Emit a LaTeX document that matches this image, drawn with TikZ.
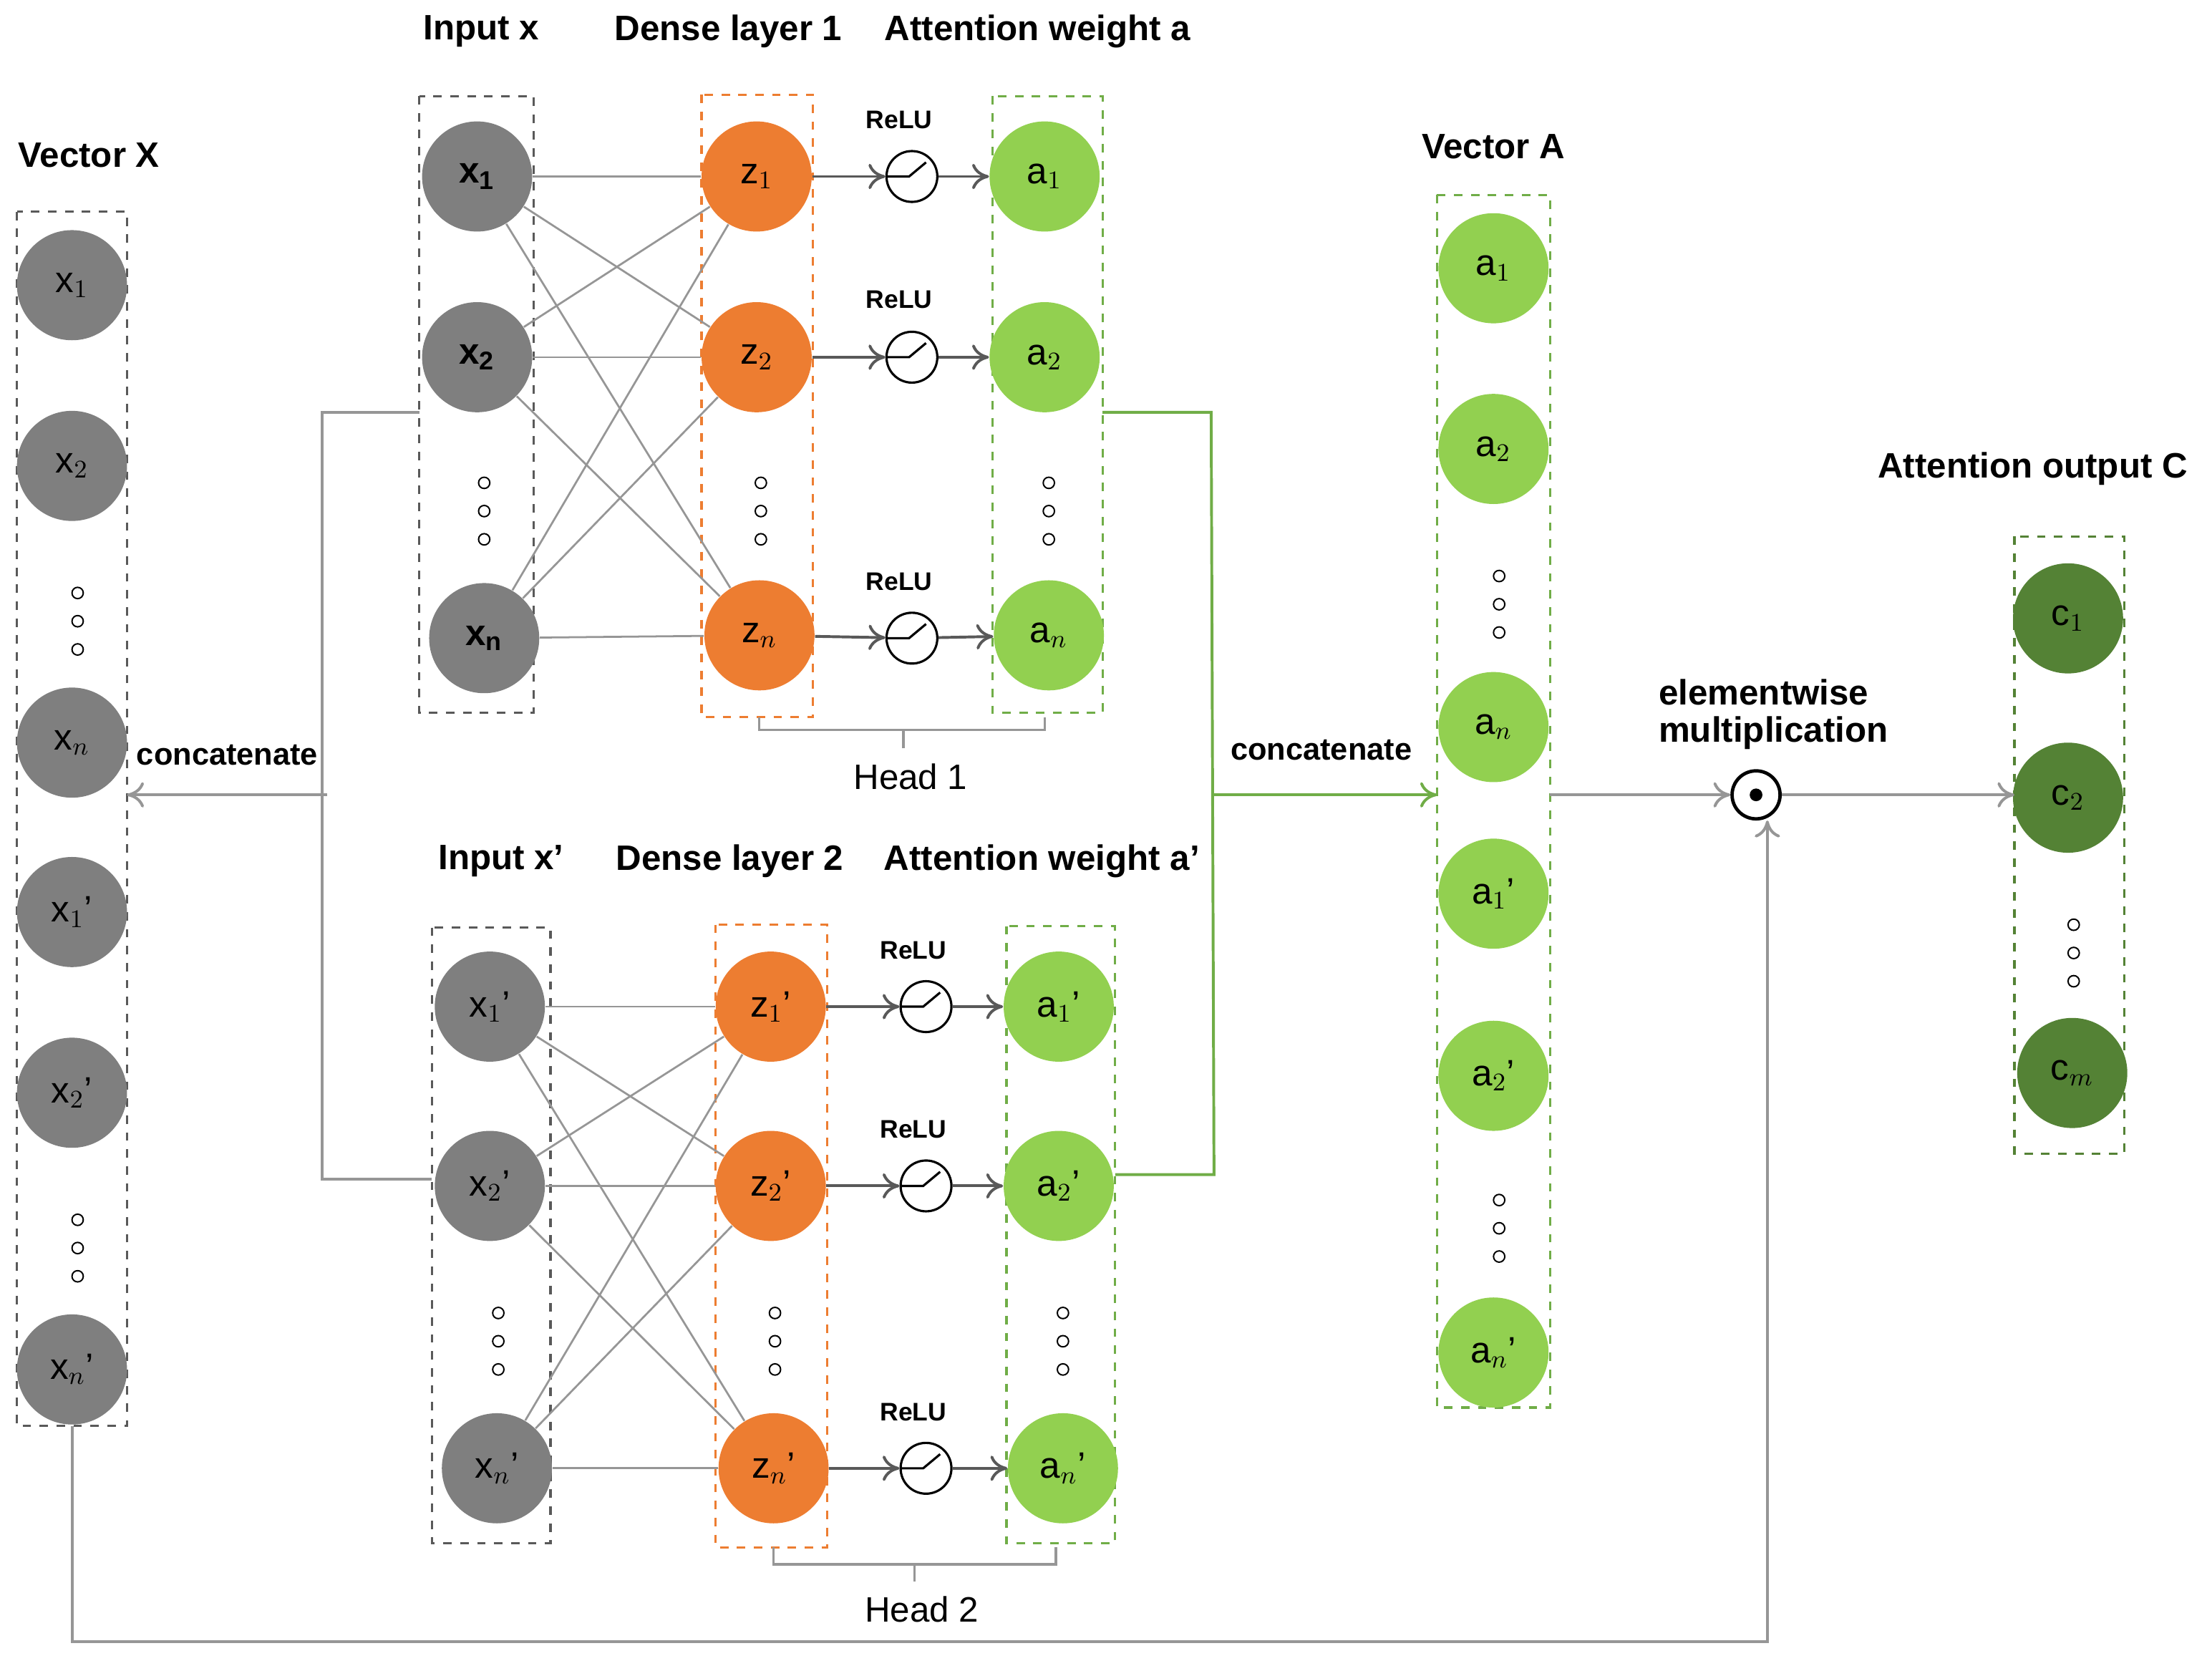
\documentclass[tikz,border=0pt]{standalone}
\usepackage{fontspec}
\setmainfont{Liberation Sans}
\usetikzlibrary{arrows.meta}
\definecolor{ngray}{HTML}{7F7F7F}
\definecolor{norange}{HTML}{ED7D31}
\definecolor{nlgreen}{HTML}{92D050}
\definecolor{ndgreen}{HTML}{548235}
\definecolor{bgray}{HTML}{595959}
\definecolor{bgreen}{HTML}{70AD47}
\definecolor{lgray}{HTML}{969696}
\begin{document}
\begin{tikzpicture}[x=0.5pt,y=-0.5pt,
 nd/.style={circle,minimum size=39pt,inner sep=0pt,font=\fontsize{13}{13}\selectfont},
 gn/.style={nd,fill=ngray},
 on/.style={nd,fill=norange},
 ln/.style={nd,fill=nlgreen},
 dn/.style={nd,fill=ndgreen},
 box/.style={dashed,line width=0.8pt},
 hd/.style={font=\bfseries\fontsize{12.5}{13}\selectfont},
 relu/.style={circle,draw,thick,minimum size=18pt,inner sep=0pt,
   path picture={\draw[thick] ([xshift=-9pt]path picture bounding box.center) -- ++(8pt,0) -- ++(6pt,5pt);}},
 rl/.style={font=\bfseries\fontsize{9}{9}\selectfont},
 fc/.style={lgray,line width=0.7pt},
 ar/.style={-{To[length=6pt,width=9pt]},line width=1pt,draw=bgray},
 ga/.style={-{To[length=6pt,width=9pt]},line width=1pt,draw=lgray},
 dt/.style={circle,draw,inner sep=0pt,minimum size=4pt,line width=0.5pt}]
\useasboundingbox (0,0) rectangle (1567,1180);
\newcommand{\vdts}[2]{\node[dt] at (#1,#2-20) {};\node[dt] at (#1,#2) {};\node[dt] at (#1,#2+20) {};}
% Vector X
\node[hd] (hX) at (63,110) {Vector X};
\draw[box,bgray] (12,150) rectangle (90,1010);
\coordinate (Xr) at (90,563); \coordinate (Xb) at (51,1010);
\node[gn] (X1) at (51,202) {x$_1$};
\node[gn] (X2) at (51,330) {x$_2$};
\vdts{55}{440}
\node[gn] (X3) at (51,526) {x$_n$};
\node[gn] (X4) at (51,646) {x$_1$'};
\node[gn] (X5) at (51,774) {x$_2$'};
\vdts{55}{884}
\node[gn] (X6) at (51,970) {x$_n$'};
% Head 1
\node[hd] (h1a) at (341,22) {Input x};
\node[hd] (h1b) at (516,22) {Dense layer 1};
\node[hd] (h1c) at (735,22) {Attention weight a};
\draw[box,bgray] (297,68) rectangle (378,505);
\draw[box,norange] (497,67) rectangle (576,508);
\draw[box,bgreen] (703,68) rectangle (781,505);
\node[gn] (x1) at (338,125) {$\mathbf{x_1}$};
\node[gn] (x2) at (338,253) {$\mathbf{x_2}$};
\vdts{343}{362}
\node[gn] (x3) at (343,452) {$\mathbf{x_n}$};
\node[on] (z1) at (536,125) {z$_1$};
\node[on] (z2) at (536,253) {z$_2$};
\vdts{539}{362}
\node[on] (z3) at (538,450) {z$_n$};
\node[ln] (a1) at (740,125) {a$_1$};
\node[ln] (a2) at (740,253) {a$_2$};
\vdts{743}{362}
\node[ln] (a3) at (743,450) {a$_n$};
\foreach \i in {1,2,3}{\foreach \j in {1,2,3}{\draw[fc] (x\i) -- (z\j);}}
\node[relu] (r1) at (646,125) {}; \node[rl] at (637,85) {ReLU};
\node[relu] (r2) at (646,253) {}; \node[rl] at (637,212) {ReLU};
\node[relu] (r3) at (646,452) {}; \node[rl] at (637,412) {ReLU};
\foreach \i in {1,2,3}{\draw[ar] (z\i) -- (r\i); \draw[ar] (r\i) -- (a\i);}
\draw[lgray,line width=0.8pt] (538,508) -- (538,517) -- (740,517) -- (740,508) (640,517) -- (640,530);
\node[font=\fontsize{12.5}{13}\selectfont] (H1) at (645,550) {Head 1};
% Head 2
\node[hd] (h2a) at (355,610) {Input x'};
\node[hd] (h2b) at (517,610) {Dense layer 2};
\node[hd] (h2c) at (738,610) {Attention weight a'};
\draw[box,bgray] (306,657) rectangle (390,1093);
\draw[box,norange] (507,655) rectangle (586,1096);
\draw[box,bgreen] (713,656) rectangle (790,1093);
\node[gn] (y1) at (347,713) {x$_1$'};
\node[gn] (y2) at (347,840) {x$_2$'};
\vdts{353}{950}
\node[gn] (y3) at (352,1040) {x$_n$'};
\node[on] (w1) at (546,713) {z$_1$'};
\node[on] (w2) at (546,840) {z$_2$'};
\vdts{549}{950}
\node[on] (w3) at (548,1040) {z$_n$'};
\node[ln] (b1) at (750,713) {a$_1$'};
\node[ln] (b2) at (750,840) {a$_2$'};
\vdts{753}{950}
\node[ln] (b3) at (753,1040) {a$_n$'};
\foreach \i in {1,2,3}{\foreach \j in {1,2,3}{\draw[fc] (y\i) -- (w\j);}}
\node[relu] (s1) at (656,713) {}; \node[rl] at (647,673) {ReLU};
\node[relu] (s2) at (656,840) {}; \node[rl] at (647,800) {ReLU};
\node[relu] (s3) at (656,1040) {}; \node[rl] at (647,1000) {ReLU};
\foreach \i in {1,2,3}{\draw[ar] (w\i) -- (s\i); \draw[ar] (s\i) -- (b\i);}
\draw[lgray,line width=0.8pt] (548,1096) -- (548,1108) -- (748,1108) -- (748,1096) (648,1108) -- (648,1120);
\node[font=\fontsize{12.5}{13}\selectfont] (H2) at (653,1140) {Head 2};
% concatenate left
\draw[lgray,line width=1pt] (297,292) -- (228,292) -- (228,835) -- (306,835);
\coordinate (cl) at (232,563);
\draw[ga] (cl) -- (Xr);
\node[font=\bfseries\fontsize{11}{11}\selectfont] (c1t) at (161,535) {concatenate};
% concatenate right
\draw[bgreen,line width=1pt] (781,292) -- (858,292) -- (860,832) -- (790,832);
\coordinate (cr) at (860,563); \coordinate (Al) at (1018,563);
\draw[-{To[length=6pt,width=9pt]},line width=1pt,bgreen] (cr) -- (Al);
\node[font=\bfseries\fontsize{11}{11}\selectfont] (c2t) at (936,531) {concatenate};
% Vector A
\node[hd] (hA) at (1058,104) {Vector A};
\draw[box,bgreen] (1018,138) rectangle (1098,997);
\node[ln] (A1) at (1058,190) {a$_1$};
\node[ln] (A2) at (1058,318) {a$_2$};
\vdts{1062}{428}
\node[ln] (A3) at (1058,515) {a$_n$};
\node[ln] (A4) at (1058,633) {a$_1$'};
\node[ln] (A5) at (1058,762) {a$_2$'};
\vdts{1062}{870}
\node[ln] (A6) at (1058,958) {a$_n$'};
\coordinate (Ar) at (1098,563);
% odot
\node[circle,draw,line width=1.2pt,minimum size=17pt,inner sep=0pt] (m) at (1244,563) {};
\fill (m.center) circle (4.5);
\node[hd,align=left,anchor=west] (mt) at (1168,506) {elementwise\\multiplication};
\draw[ga] (Ar) -- (m);
% Output C
\node[hd] (hC) at (1440,332) {Attention output C};
\draw[box,ndgreen] (1427,380) rectangle (1505,817);
\node[dn] (C1) at (1465,438) {c$_1$};
\node[dn] (C2) at (1465,565) {c$_2$};
\vdts{1469}{675}
\node[dn] (C3) at (1468,760) {c$_m$};
\coordinate (Cl) at (1427,563);
\draw[ga] (m) -- (Cl);
% bottom
\coordinate (b1c) at (51,1163); \coordinate (b2c) at (1252,1163);
\draw[ga] (Xb) -- (b1c) -- (b2c) -- (m.south -| b2c);
\end{tikzpicture}
\end{document}
